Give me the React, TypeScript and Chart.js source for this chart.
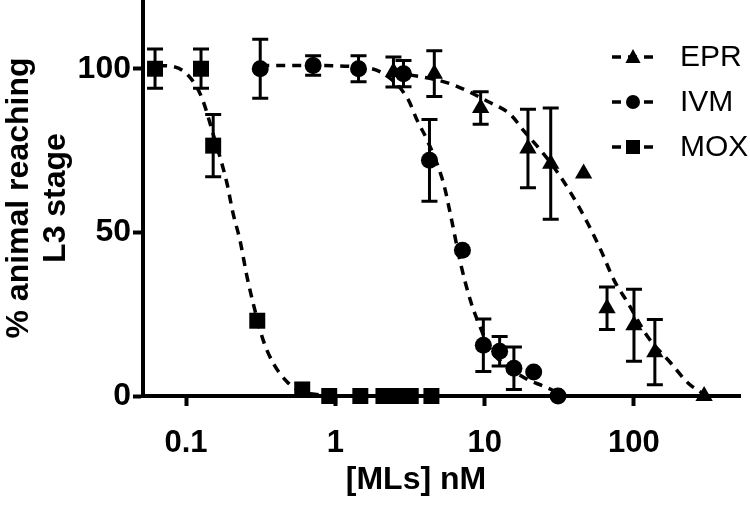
import React, { useEffect, useRef } from 'react';
import { Chart, registerables } from 'chart.js';

Chart.register(...registerables);

// ---- Data ----
const xTicks = [0.1, 1, 10, 100];
const yTicks = [0, 50, 100];

const seriesNames = ['EPR', 'IVM', 'MOX'];

// EPR (triangles)
const eprConc = [2.45, 4.6, 9.4, 19.5, 27.7, 46, 66, 100, 138, 295];
const eprResp = [99, 98.5, 88, 75.6, 71, 68, 26.8, 21.6, 13.4, 0];
const eprErr = [4.6, 7, 5, 12, 17, 0, 6.5, 11, 10, 0];
const eprCurveX = [2.45, 5.9, 10.5, 14.9, 18.3, 23.8, 29, 37.8, 49.1, 60.1, 73.5, 91.2, 124, 177, 230, 295];
const eprCurveY = [99, 95.4, 90, 86, 81, 75, 70, 62, 52.7, 44.5, 35.4, 28.4, 18, 10, 4, 0.5];

// IVM (circles)
const ivmConc = [0.314, 0.71, 1.43, 2.86, 4.27, 7.1, 9.8, 12.6, 15.7, 21.3, 31];
const ivmResp = [100, 101, 100, 98.5, 72, 44.5, 15.5, 13.7, 8.5, 7.3, 0];
const ivmErr = [9, 3, 4, 4, 12.5, 0, 8, 4.5, 6.5, 0, 0];
const ivmCurveX = [0.314, 0.6, 1.47, 2.1, 3.04, 3.55, 4.14, 5.3, 5.9, 6.9, 8.05, 8.97, 11, 14.3, 19.4, 24.9, 31];
const ivmCurveY = [101, 101, 100.5, 98.5, 91, 84, 78, 65, 55.5, 40.5, 29, 23, 14, 9, 5, 3, 1];

// MOX (squares)
const moxConc = [0.062, 0.126, 0.152, 0.3, 0.6, 0.91, 1.47, 2.1, 2.6, 3.2, 4.4];
const moxResp = [100, 100, 76.5, 23, 2, 0, 0, 0, 0, 0, 0];
const moxErr = [6, 6, 9.5, 0, 0, 0, 0, 0, 0, 0, 0];
const moxCurveX = [0.065, 0.085, 0.108, 0.128, 0.152, 0.188, 0.206, 0.23, 0.256, 0.29, 0.329, 0.384, 0.476, 0.58, 0.8, 1.2, 4.4];
const moxCurveY = [101, 100.5, 97, 91, 80, 65, 56, 47.5, 36.5, 26, 17, 10, 4.3, 1.5, 0.3, 0, 0];

const FONT = '"Liberation Sans", Arial, Helvetica, sans-serif';

type S = {
  name: string;
  style: 'triangle' | 'circle' | 'rect';
  radius: number;
  conc: number[];
  resp: number[];
  err: number[];
  cx: number[];
  cy: number[];
};

const series: S[] = [
  { name: seriesNames[0], style: 'triangle', radius: 10, conc: eprConc, resp: eprResp, err: eprErr, cx: eprCurveX, cy: eprCurveY },
  { name: seriesNames[1], style: 'circle', radius: 8.5, conc: ivmConc, resp: ivmResp, err: ivmErr, cx: ivmCurveX, cy: ivmCurveY },
  { name: seriesNames[2], style: 'rect', radius: 11.3, conc: moxConc, resp: moxResp, err: moxErr, cx: moxCurveX, cy: moxCurveY },
];

function drawMarker(ctx: CanvasRenderingContext2D, style: string, x: number, y: number, r: number) {
  ctx.beginPath();
  if (style === 'circle') {
    ctx.arc(x, y, r, 0, Math.PI * 2);
  } else if (style === 'rect') {
    ctx.rect(x - r, y - r, 2 * r, 2 * r);
  } else {
    ctx.moveTo(x, y - r);
    ctx.lineTo(x + r * 0.95, y + r * 0.75);
    ctx.lineTo(x - r * 0.95, y + r * 0.75);
    ctx.closePath();
  }
  ctx.fill();
}

const overlay = {
  id: 'overlay',
  afterDatasetsDraw(chart: any) {
    const { ctx } = chart;
    const xs = chart.scales.x;
    const ys = chart.scales.y;
    ctx.save();
    ctx.strokeStyle = '#000';
    ctx.fillStyle = '#000';
    ctx.lineWidth = 3;
    ctx.setLineDash([]);
    // error bars
    series.forEach((s) => {
      s.conc.forEach((c, i) => {
        const e = s.err[i];
        if (!e) return;
        const px = xs.getPixelForValue(c);
        const top = ys.getPixelForValue(s.resp[i] + e);
        const bot = ys.getPixelForValue(s.resp[i] - e);
        ctx.beginPath();
        ctx.moveTo(px, top);
        ctx.lineTo(px, bot);
        ctx.moveTo(px - 8, top);
        ctx.lineTo(px + 8, top);
        ctx.moveTo(px - 8, bot);
        ctx.lineTo(px + 8, bot);
        ctx.stroke();
      });
    });

    // legend
    const rowsY = [57, 102, 147];
    series.forEach((s, i) => {
      const y = rowsY[i];
      ctx.lineWidth = 3.5;
      ctx.setLineDash([9, 7]);
      ctx.beginPath();
      ctx.moveTo(612, y);
      ctx.lineTo(658, y);
      ctx.stroke();
      ctx.setLineDash([]);
      drawMarker(ctx, s.style, 633, y, s.style === 'rect' ? 7 : s.style === 'circle' ? 7 : 8);
      ctx.font = `30px ${FONT}`;
      ctx.textAlign = 'left';
      ctx.textBaseline = 'middle';
      ctx.fillText(s.name, 680, y + 1);
    });

    // axis titles
    ctx.font = `bold 32px ${FONT}`;
    ctx.textAlign = 'center';
    ctx.textBaseline = 'alphabetic';
    ctx.fillText('[MLs] nM', 416, 489);
    ctx.save();
    ctx.translate(28, 198);
    ctx.rotate(-Math.PI / 2);
    ctx.fillText('% animal reaching', 0, 0);
    ctx.restore();
    ctx.save();
    ctx.translate(65, 198);
    ctx.rotate(-Math.PI / 2);
    ctx.fillText('L3 stage', 0, 0);
    ctx.restore();
    ctx.restore();
  },
};

export default function App() {
  const ref = useRef<HTMLCanvasElement>(null);
  useEffect(() => {
    document.body.style.margin = '0';
    if (!ref.current) return;
    const datasets: any[] = [];
    series.forEach((s) => {
      datasets.push({
        label: s.name + ' fit',
        data: s.cx.map((x, i) => ({ x, y: s.cy[i] })),
        showLine: true,
        borderColor: '#000',
        backgroundColor: '#000',
        borderWidth: 3.5,
        borderDash: [9, 7],
        pointRadius: 0,
        cubicInterpolationMode: 'monotone',
        fill: false,
        clip: false,
      });
      datasets.push({
        label: s.name,
        data: s.conc.map((x, i) => ({ x, y: s.resp[i] })),
        showLine: false,
        pointStyle: s.style,
        pointRadius: s.radius,
        pointBackgroundColor: '#000',
        pointBorderColor: '#000',
        pointBorderWidth: 0,
        clip: false,
      });
    });

    const chart = new Chart(ref.current, {
      type: 'scatter',
      data: { datasets },
      options: {
        animation: false,
        responsive: false,
        layout: { autoPadding: false, padding: { top: 0, right: 10, left: 0, bottom: 0 } },
        plugins: { legend: { display: false }, tooltip: { enabled: false } },
        scales: {
          x: {
            type: 'logarithmic',
            min: 0.0515,
            max: 513,
            border: { display: true, color: '#000', width: 4 },
            grid: { drawOnChartArea: false, drawTicks: true, tickLength: 10, tickWidth: 4, tickColor: '#000' },
            ticks: {
              color: '#000',
              font: { family: FONT, size: 31, weight: 'bold' },
              padding: 19,
              maxRotation: 0,
              autoSkip: false,
              callback: (v: any) => String(v),
            },
            afterBuildTicks: (scale: any) => {
              scale.ticks = xTicks.map((v) => ({ value: v }));
            },
            afterFit: (scale: any) => {
              scale.height = 110;
            },
          },
          y: {
            min: 0,
            max: 121,
            border: { display: true, color: '#000', width: 4 },
            grid: { drawOnChartArea: false, drawTicks: true, tickLength: 10, tickWidth: 4, tickColor: '#000' },
            ticks: {
              color: '#000',
              font: { family: FONT, size: 32, weight: 'bold' },
              padding: 2,
              callback: (v: any) => String(v),
            },
            afterBuildTicks: (scale: any) => {
              scale.ticks = yTicks.map((v) => ({ value: v }));
            },
            afterFit: (scale: any) => {
              scale.width = 143;
              scale.paddingTop = 0;
              scale.paddingBottom = 0;
            },
          },
        },
      },
      plugins: [overlay],
    } as any);
    return () => chart.destroy();
  }, []);
  return <canvas ref={ref} width={750} height={506} style={{ display: 'block' }} />;
}
